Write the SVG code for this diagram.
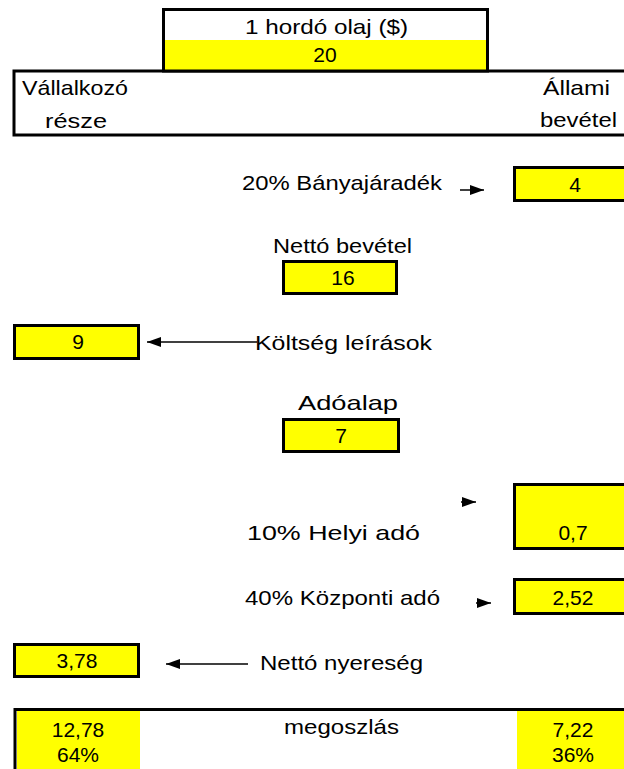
<svg xmlns="http://www.w3.org/2000/svg" width="624" height="769" viewBox="0 0 624 769">
<style>
text{font-family:"Liberation Sans",Arial,sans-serif;font-size:21px;fill:#000}
.c{text-anchor:middle}
.box{fill:#ffff00;stroke:#000;stroke-width:3}
.frame{fill:none;stroke:#000;stroke-width:3}
.yel{fill:#ffff00}
.con{stroke:#000;stroke-width:1.5;fill:none;marker-end:url(#ah)}
</style>
<defs>
<marker id="ah" markerUnits="userSpaceOnUse" markerWidth="15" markerHeight="11" refX="14" refY="5" orient="auto">
<path d="M0,0 L14,5 L0,10 z" fill="#000"/>
</marker>
</defs>
<rect width="624" height="769" fill="#fff"/>

<g id="header">
<rect class="frame" x="14" y="71" width="620" height="64"/>
<text x="22" y="95" textLength="106" lengthAdjust="spacingAndGlyphs">Vállalkozó</text>
<text x="45" y="128" textLength="62" lengthAdjust="spacingAndGlyphs">része</text>
<text x="543" y="95" textLength="67" lengthAdjust="spacingAndGlyphs">Állami</text>
<text x="540" y="127" textLength="77" lengthAdjust="spacingAndGlyphs">bevétel</text>
</g>

<g id="barrel">
<rect x="165" y="40" width="321" height="30" class="yel"/>
<rect class="frame" x="163.5" y="9.5" width="324" height="61.5"/>
<text x="245" y="34" textLength="163" lengthAdjust="spacingAndGlyphs">1 hordó olaj ($)</text>
<text class="c" x="325" y="62">20</text>
</g>

<g id="royalty">
<text x="242" y="190" textLength="200" lengthAdjust="spacingAndGlyphs">20% Bányajáradék</text>
<rect class="box" x="514.5" y="167.5" width="120" height="33"/>
<text class="c" x="575" y="192">4</text>
</g>

<g id="net-revenue">
<text x="273" y="253" textLength="139" lengthAdjust="spacingAndGlyphs">Nettó bevétel</text>
<rect class="box" x="283.5" y="261.5" width="113" height="32"/>
<text class="c" x="343" y="285">16</text>
</g>

<g id="cost">
<rect class="box" x="14.5" y="325.5" width="124" height="33"/>
<text class="c" x="78" y="349">9</text>
<text x="255" y="350" textLength="177" lengthAdjust="spacingAndGlyphs">Költség leírások</text>
</g>

<g id="tax-base">
<text x="298" y="410" textLength="100" lengthAdjust="spacingAndGlyphs">Adóalap</text>
<rect class="box" x="283.5" y="419.5" width="115" height="32"/>
<text class="c" x="341" y="443">7</text>
</g>

<g id="local-tax">
<text x="247" y="540" textLength="173" lengthAdjust="spacingAndGlyphs">10% Helyi adó</text>
<rect class="box" x="514.5" y="484.5" width="120" height="64"/>
<text class="c" x="573" y="540">0,7</text>
</g>

<g id="central-tax">
<text x="245" y="605" textLength="195" lengthAdjust="spacingAndGlyphs">40% Központi adó</text>
<rect class="box" x="514.5" y="579.5" width="120" height="34"/>
<text class="c" x="573" y="605">2,52</text>
</g>

<g id="net-profit">
<rect class="box" x="14.5" y="644.5" width="124" height="32"/>
<text class="c" x="77" y="668">3,78</text>
<text x="260" y="670" textLength="163" lengthAdjust="spacingAndGlyphs">Nettó nyereség</text>
</g>

<g id="split">
<rect x="17" y="711" width="123" height="58" class="yel"/>
<rect x="517" y="711" width="107" height="58" class="yel"/>
<path d="M15,769 V709.5 H624" class="frame"/>
<text class="c" x="78" y="737">12,78</text>
<text class="c" x="78" y="762">64%</text>
<text x="284" y="734" textLength="115" lengthAdjust="spacingAndGlyphs">megoszlás</text>
<text class="c" x="573" y="737">7,22</text>
<text class="c" x="573" y="762">36%</text>
</g>

<g id="connectors">
<line class="con" x1="460" y1="190" x2="484" y2="190"/>
<line class="con" x1="257" y1="342" x2="147" y2="342"/>
<line class="con" x1="461" y1="502" x2="476" y2="502"/>
<line class="con" x1="476" y1="603" x2="491" y2="603"/>
<line class="con" x1="248" y1="664" x2="166" y2="664"/>
</g>
</svg>
